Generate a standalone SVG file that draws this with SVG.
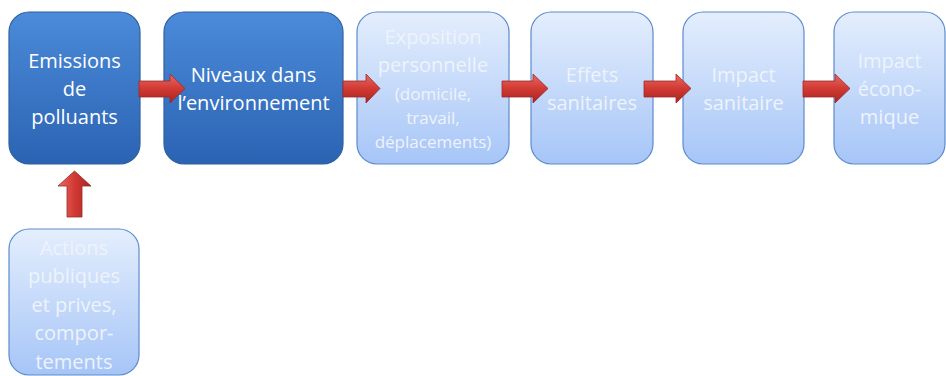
<svg xmlns="http://www.w3.org/2000/svg" width="946" height="376" viewBox="0 0 946 376">
<defs>
<linearGradient id="gDark" x1="0" y1="0" x2="0" y2="1">
<stop offset="0" stop-color="#4b8bd9"/>
<stop offset="1" stop-color="#2b63b3"/>
</linearGradient>
<linearGradient id="gLight" x1="0" y1="0" x2="0" y2="1">
<stop offset="0" stop-color="#e4eefd"/>
<stop offset="1" stop-color="#a6c5f7"/>
</linearGradient>
<linearGradient id="gArrH" x1="0" y1="0" x2="0" y2="1">
<stop offset="0" stop-color="#e86a64"/>
<stop offset="0.5" stop-color="#d23a34"/>
<stop offset="1" stop-color="#a82420"/>
</linearGradient>
<linearGradient id="gArrV" x1="0" y1="0" x2="1" y2="0">
<stop offset="0" stop-color="#e86a64"/>
<stop offset="0.5" stop-color="#d23a34"/>
<stop offset="1" stop-color="#a82420"/>
</linearGradient>
</defs>
<style>
.dark{fill:url(#gDark);stroke:#2f5f9e;stroke-width:1.2}
.light{fill:url(#gLight);stroke:#5c8bcb;stroke-width:1.2}
.arr{stroke:#9c2a26;stroke-width:0.8}
text{font-family:"Open Sans","Noto Sans",sans-serif;text-anchor:middle}
.tw{fill:#ffffff;font-size:20px}
.tl{fill:#eef3fb;font-size:20px}
.ts{fill:#eef3fb;font-size:17px}
</style>
<g id="n1">
<rect class="dark" x="9" y="12" width="131" height="152" rx="20"/>
<text class="tw" x="74.5" y="68">Emissions</text>
<text class="tw" x="74.5" y="96">de</text>
<text class="tw" x="74.5" y="124">polluants</text>
</g>
<g id="n2">
<rect class="dark" x="164" y="12" width="179" height="152" rx="20"/>
<text class="tw" x="253.5" y="82">Niveaux dans</text>
<text class="tw" x="253.5" y="110">l’environnement</text>
</g>
<g id="n3">
<rect class="light" x="357" y="12" width="152" height="152" rx="20"/>
<text class="tl" x="433" y="44">Exposition</text>
<text class="tl" x="433" y="72">personnelle</text>
<text class="ts" x="433" y="100">(domicile,</text>
<text class="ts" x="433" y="124">travail,</text>
<text class="ts" x="433" y="148">déplacements)</text>
</g>
<g id="n4">
<rect class="light" x="531" y="12" width="122" height="152" rx="20"/>
<text class="tl" x="592" y="82">Effets</text>
<text class="tl" x="592" y="110">sanitaires</text>
</g>
<g id="n5">
<rect class="light" x="683" y="12" width="121" height="152" rx="20"/>
<text class="tl" x="743.5" y="82">Impact</text>
<text class="tl" x="743.5" y="110">sanitaire</text>
</g>
<g id="n6">
<rect class="light" x="834" y="12" width="111" height="152" rx="20"/>
<text class="tl" x="889.5" y="68">Impact</text>
<text class="tl" x="889.5" y="96">écono-</text>
<text class="tl" x="889.5" y="124">mique</text>
</g>
<g id="n7">
<rect class="light" x="9" y="229" width="130" height="146" rx="20"/>
<text class="tl" x="74" y="255">Actions</text>
<text class="tl" x="74" y="283">publiques</text>
<text class="tl" x="74" y="312">et prives,</text>
<text class="tl" x="74" y="340">compor-</text>
<text class="tl" x="74" y="369">tements</text>
</g>
<g id="connectors">
<polygon class="arr" fill="url(#gArrH)" points="139,81 170,81 170,74 185,88.5 170,103 170,97 139,97"/>
<polygon class="arr" fill="url(#gArrH)" points="343,81 366,81 366,74 380,88.5 366,103 366,97 343,97"/>
<polygon class="arr" fill="url(#gArrH)" points="502,81 533,81 533,74 548,88.5 533,103 533,97 502,97"/>
<polygon class="arr" fill="url(#gArrH)" points="644,81 676,81 676,74 691,88.5 676,103 676,97 644,97"/>
<polygon class="arr" fill="url(#gArrH)" points="803,81 835,81 835,74 850,88.5 835,103 835,97 803,97"/>
<polygon class="arr" fill="url(#gArrV)" points="67,217 67,186 58,186 74.5,171 91,186 82,186 82,217"/>
</g>
</svg>
